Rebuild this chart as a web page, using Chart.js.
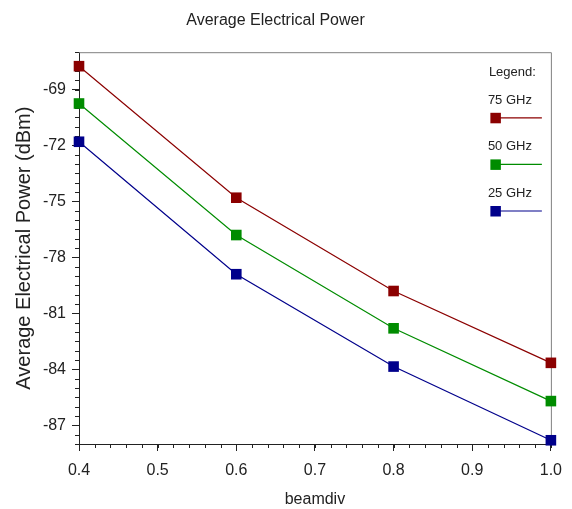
<!DOCTYPE html>
<html lang="en">
<head>
<meta charset="UTF-8">
<title>Average Electrical Power</title>
<script src="https://cdn.jsdelivr.net/npm/chart.js"></script>
<style>
    body {
        margin: 0;
        background: #fff;
    }

    #wrap {
        width: 572px;
        height: 509px;
    }
</style>
</head>
<body>
<div id="wrap"><canvas id="grafico" width="572" height="509"></canvas></div>
<script>
    var beamdiv = [0.4, 0.6, 0.8, 1.0];
    var power75 = [-67.75, -74.8, -79.8, -83.65];
    var power50 = [-69.75, -76.8, -81.8, -85.7];
    var power25 = [-71.8, -78.9, -83.85, -87.8];

    var xTicks = [0.4, 0.5, 0.6, 0.7, 0.8, 0.9, 1.0];
    var yTicks = [-87, -84, -81, -78, -75, -72, -69];

    var seriesNames = ['75 GHz', '50 GHz', '25 GHz'];
    var seriesValues = [power75, power50, power25];
    var seriesColors = ['#8b0000', '#008c00', '#00008b'];

    var FONT = "'Liberation Sans', Arial, sans-serif";
    var TEXT = '#222';
    Chart.defaults.font.family = FONT;
    Chart.defaults.color = TEXT;

    var datasets = seriesNames.map(function (name, i) {
        return {
            label: name,
            data: beamdiv.map(function (x, j) { return { x: x, y: seriesValues[i][j] }; }),
            borderColor: seriesColors[i],
            backgroundColor: seriesColors[i],
            borderWidth: 1.2,
            pointStyle: 'rect',
            pointRadius: 7.5,
            pointBorderWidth: 0,
            tension: 0,
            clip: false
        };
    });

    // minor ticks, the grey top/right frame and the legend box drawn by hand
    var extras = {
        id: 'extras',
        beforeDatasetsDraw: function (chart) {
            var ctx = chart.ctx;
            var ca = chart.chartArea;
            var xs = chart.scales.x;
            var ys = chart.scales.y;
            ctx.save();
            ctx.strokeStyle = '#808080';
            ctx.lineWidth = 1;
            ctx.beginPath();
            ctx.moveTo(ca.left, ca.top + 0.5);
            ctx.lineTo(ca.right + 0.5, ca.top + 0.5);
            ctx.lineTo(ca.right + 0.5, ca.bottom);
            ctx.stroke();

            ctx.strokeStyle = TEXT;
            ctx.beginPath();
            for (var i = 0; i <= 42; i++) {
                var py = Math.round(ys.getPixelForValue(-88 + i * 0.5)) + 0.5;
                ctx.moveTo(ca.left - 4, py);
                ctx.lineTo(ca.left, py);
            }
            for (var k = 0; k <= 30; k++) {
                var px = Math.round(xs.getPixelForValue(0.4 + k * 0.02)) + 0.5;
                ctx.moveTo(px, ca.bottom);
                ctx.lineTo(px, ca.bottom + 4);
            }
            ctx.stroke();
            ctx.restore();
        },
        afterDraw: function (chart) {
            var ctx = chart.ctx;
            var ca = chart.chartArea;
            ctx.save();
            ctx.font = '13px ' + FONT;
            ctx.fillStyle = TEXT;
            ctx.textAlign = 'left';
            ctx.textBaseline = 'middle';
            ctx.fillText('Legend:', ca.right - 62, ca.top + 20);
            seriesNames.forEach(function (name, i) {
                var ty = ca.top + 48 + i * 46.6;
                var my = ty + 17.6;
                ctx.fillStyle = TEXT;
                ctx.fillText(name, ca.right - 63, ty);
                ctx.strokeStyle = seriesColors[i];
                ctx.lineWidth = 1.2;
                ctx.beginPath();
                ctx.moveTo(ca.right - 56, my);
                ctx.lineTo(ca.right - 9, my);
                ctx.stroke();
                ctx.fillStyle = seriesColors[i];
                ctx.fillRect(ca.right - 60.5, my - 5, 10.5, 10.5);
            });
            ctx.restore();
        }
    };

    var grafico = new Chart(document.getElementById('grafico').getContext('2d'), {
        type: 'line',
        data: { datasets: datasets },
        plugins: [extras],
        options: {
            responsive: false,
            animation: false,
            layout: { padding: { left: 0, right: 21, top: 0, bottom: 0 } },
            plugins: {
                legend: { display: false },
                tooltip: { enabled: false },
                title: {
                    display: true,
                    text: 'Average Electrical Power',
                    color: TEXT,
                    font: { size: 16, weight: 'normal' },
                    padding: { top: 11, bottom: 22 }
                }
            },
            scales: {
                x: {
                    type: 'linear',
                    min: 0.4,
                    max: 1.0,
                    afterBuildTicks: function (s) {
                        s.ticks = xTicks.map(function (v) { return { value: v }; });
                    },
                    afterFit: function (s) { s.height = 65; },
                    grid: { drawOnChartArea: false, tickLength: 7, color: TEXT },
                    border: { color: TEXT },
                    ticks: {
                        padding: 10,
                        color: TEXT,
                        font: { size: 16 },
                        maxRotation: 0,
                        callback: function (v) { return v.toFixed(1); }
                    },
                    title: { display: true, text: 'beamdiv', color: TEXT, font: { size: 16 }, padding: 0 }
                },
                y: {
                    type: 'linear',
                    min: -88,
                    max: -67,
                    afterBuildTicks: function (s) {
                        s.ticks = yTicks.map(function (v) { return { value: v }; });
                    },
                    afterFit: function (s) { s.width = 79; },
                    grid: { drawOnChartArea: false, tickLength: 7, color: TEXT },
                    border: { color: TEXT },
                    ticks: { padding: 6, color: TEXT, font: { size: 16 } },
                    title: {
                        display: true,
                        text: 'Average Electrical Power (dBm)',
                        color: TEXT,
                        font: { size: 20 },
                        padding: { top: 12, bottom: 0 }
                    }
                }
            }
        }
    });
</script>
</body>
</html>
